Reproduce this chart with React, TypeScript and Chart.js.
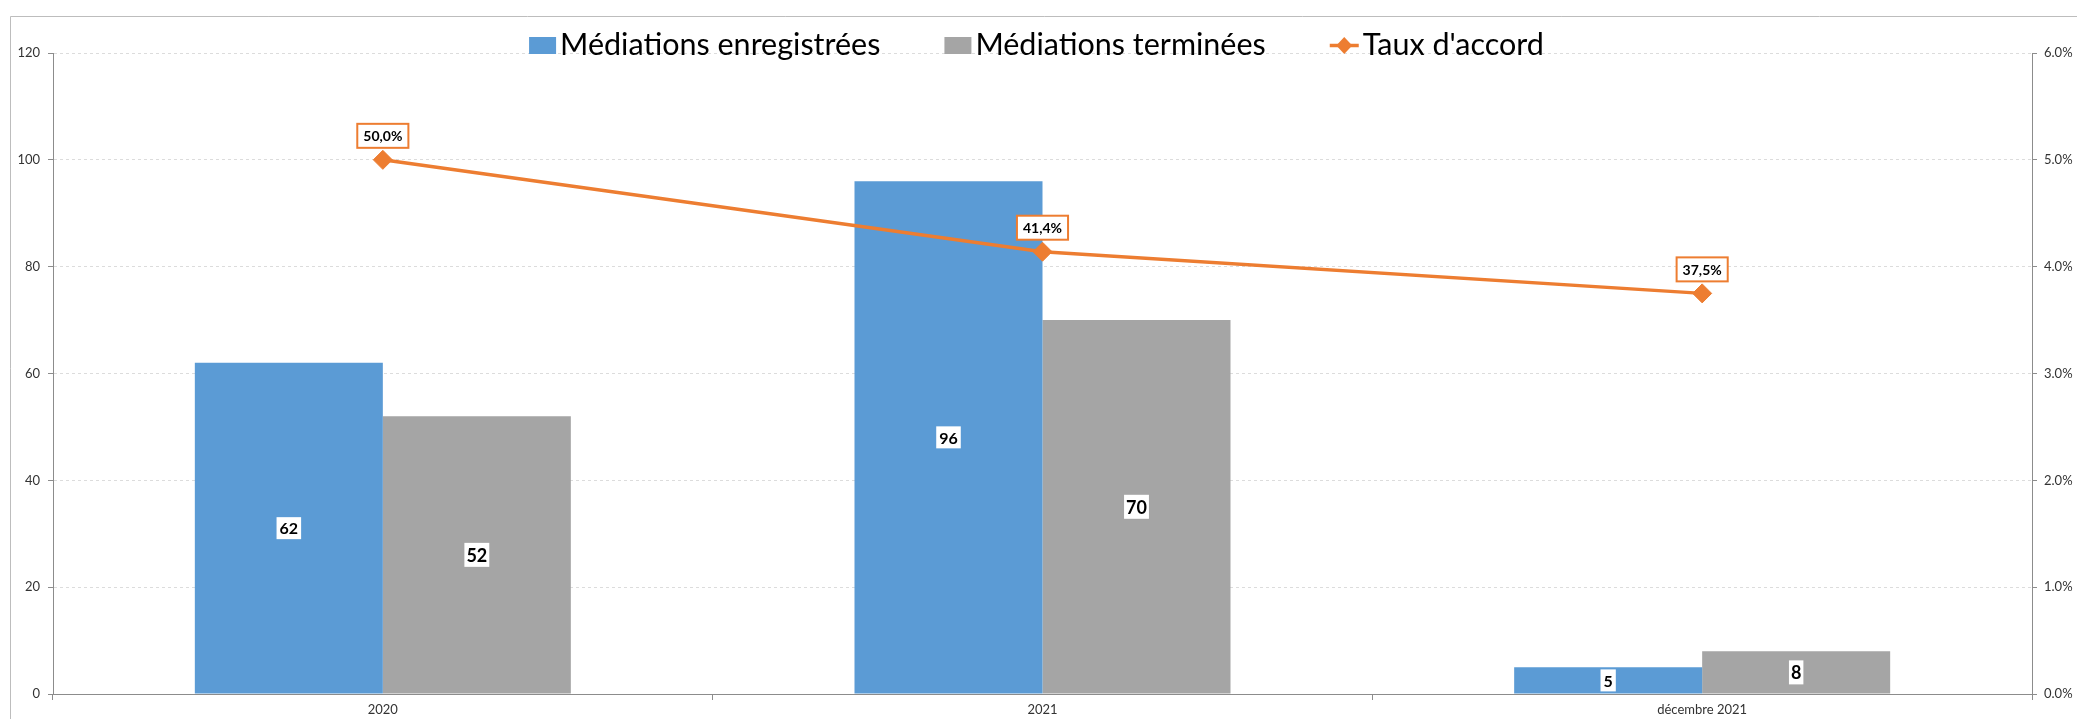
import React, { useEffect, useRef } from 'react';
import { Chart, registerables } from 'chart.js';

Chart.register(...registerables);

const categories = ['2020', '2021', 'décembre 2021'];
const registeredMediations = [62, 96, 5];
const completedMediations = [52, 70, 8];
const agreementRate = [50.0, 41.4, 37.5];
const seriesNames = ['Médiations enregistrées', 'Médiations terminées', "Taux d'accord"];

const BLUE = '#5B9BD5';
const GREY = '#A5A5A5';
const ORANGE = '#ED7D31';
const AXIS = '#8c8c8c';
const FONT = 'Lato';

const fmtRate = (v: number) => v.toFixed(1).replace('.', ',') + '%';

const framePlugin = {
  id: 'frame',
  beforeDraw(chart: any) {
    const { ctx, width, height } = chart;
    ctx.save();
    ctx.fillStyle = '#ffffff';
    ctx.fillRect(0, 0, width, height);
    ctx.strokeStyle = '#bdbdbd';
    ctx.lineWidth = 1;
    ctx.beginPath();
    ctx.moveTo(10.5, height + 2);
    ctx.lineTo(10.5, 16.5);
    ctx.lineTo(width + 2, 16.5);
    ctx.stroke();
    ctx.restore();
  },
};

function drawBox(ctx: any, text: string, cx: number, cy: number, font: string, padX: number, padY: number, fontPx: number, border?: string) {
  ctx.font = font;
  const w = ctx.measureText(text).width + padX * 2;
  const h = fontPx + padY * 2;
  ctx.fillStyle = '#ffffff';
  ctx.fillRect(cx - w / 2, cy - h / 2, w, h);
  if (border) {
    ctx.strokeStyle = border;
    ctx.lineWidth = 2;
    ctx.strokeRect(cx - w / 2, cy - h / 2, w, h);
  }
  ctx.fillStyle = '#000000';
  ctx.textAlign = 'center';
  ctx.textBaseline = 'middle';
  ctx.fillText(text, cx, cy + 1);
}

const labelsPlugin = {
  id: 'valueLabels',
  afterDatasetsDraw(chart: any) {
    const { ctx } = chart;
    ctx.save();
    chart.data.datasets.forEach((ds: any, di: number) => {
      const meta = chart.getDatasetMeta(di);
      meta.data.forEach((el: any, i: number) => {
        const v = ds.data[i];
        if (ds.type === 'line') {
          drawBox(ctx, fmtRate(v), el.x, el.y - 24, `bold 14px ${FONT}`, 6, 5, 14, ORANGE);
        } else {
          const cy = (el.y + el.base) / 2;
          if (di === 1) {
            drawBox(ctx, String(v), el.x, cy, `bold 16px ${FONT}`, 3, 3, 16);
          } else {
            drawBox(ctx, String(v), el.x, cy, `bold 18px ${FONT}`, 2, 3, 18);
          }
        }
      });
    });
    ctx.restore();
  },
};

const legendPlugin = {
  id: 'customLegend',
  afterDraw(chart: any) {
    const { ctx, chartArea } = chart;
    ctx.save();
    ctx.font = `30.5px ${FONT}`;
    const markerW = [27, 27, 29];
    const gapText = 4;
    const gapItems = 64;
    const textW = seriesNames.map((n) => ctx.measureText(n).width);
    let total = 0;
    seriesNames.forEach((_, i) => {
      total += markerW[i] + gapText + textW[i];
      if (i < seriesNames.length - 1) total += gapItems;
    });
    const center = (chartArea.left + chartArea.right) / 2 - 6;
    let x = center - total / 2;
    const baseline = 55;
    const midY = 45.5;
    seriesNames.forEach((name, i) => {
      if (i < 2) {
        ctx.fillStyle = i === 0 ? BLUE : GREY;
        ctx.fillRect(x, 37, markerW[i], 17);
      } else {
        ctx.strokeStyle = ORANGE;
        ctx.lineWidth = 3.5;
        ctx.beginPath();
        ctx.moveTo(x, midY);
        ctx.lineTo(x + markerW[i], midY);
        ctx.stroke();
        ctx.fillStyle = ORANGE;
        const cx = x + markerW[i] / 2;
        ctx.beginPath();
        ctx.moveTo(cx - 8, midY);
        ctx.lineTo(cx, midY - 8.5);
        ctx.lineTo(cx + 8, midY);
        ctx.lineTo(cx, midY + 8.5);
        ctx.closePath();
        ctx.fill();
      }
      x += markerW[i] + gapText;
      ctx.fillStyle = '#000000';
      ctx.textAlign = 'left';
      ctx.textBaseline = 'alphabetic';
      ctx.fillText(name, x, baseline);
      x += textW[i] + gapItems;
    });
    ctx.restore();
  },
};

export default function App() {
  const canvasRef = useRef<HTMLCanvasElement | null>(null);

  useEffect(() => {
    if (!canvasRef.current) return;
    const tickFont = { family: FONT, size: 13 };
    const chart = new Chart(canvasRef.current, {
      type: 'bar',
      data: {
        labels: categories,
        datasets: [
          {
            type: 'line',
            label: seriesNames[2],
            data: agreementRate,
            yAxisID: 'y1',
            borderColor: ORANGE,
            backgroundColor: ORANGE,
            borderWidth: 3.5,
            pointStyle: 'rectRot',
            pointRadius: 9.5,
            pointBackgroundColor: ORANGE,
            pointBorderColor: ORANGE,
            pointBorderWidth: 1,
            tension: 0,
            order: 0,
          } as any,
          {
            type: 'bar',
            label: seriesNames[0],
            data: registeredMediations,
            yAxisID: 'y',
            backgroundColor: BLUE,
            order: 1,
            categoryPercentage: 0.57,
            barPercentage: 1,
          },
          {
            type: 'bar',
            label: seriesNames[1],
            data: completedMediations,
            yAxisID: 'y',
            backgroundColor: GREY,
            order: 1,
            categoryPercentage: 0.57,
            barPercentage: 1,
          },
        ],
      },
      options: {
        animation: false,
        responsive: true,
        maintainAspectRatio: false,
        devicePixelRatio: 1,
        layout: { padding: { top: 53, left: 0, right: 0, bottom: 0 } },
        plugins: {
          legend: { display: false },
          tooltip: { enabled: false },
          title: { display: false },
        },
        scales: {
          x: {
            offset: true,
            grid: {
              offset: true,
              drawOnChartArea: false,
              drawTicks: true,
              tickLength: 6,
              tickColor: AXIS,
            },
            border: { color: AXIS, width: 1 },
            ticks: { font: tickFont, color: '#333333', padding: 2, maxRotation: 0 },
            afterFit: (s: any) => {
              s.height = 25;
            },
          },
          y: {
            position: 'left',
            min: 0,
            max: 120,
            ticks: { stepSize: 20, font: tickFont, color: '#333333', padding: 8 },
            grid: {
              color: '#dcdcdc',
              tickColor: AXIS,
              tickLength: 5,
              tickBorderDash: [],
            },
            border: { color: AXIS, width: 1, dash: [3, 3] },
            afterFit: (s: any) => {
              s.width = 53;
            },
          },
          y1: {
            position: 'right',
            min: 0,
            max: 60,
            ticks: {
              stepSize: 10,
              font: tickFont,
              color: '#333333',
              padding: 7,
              callback: (v: any) => (Number(v) / 10).toFixed(1) + '%',
            },
            grid: { drawOnChartArea: false, tickColor: AXIS, tickLength: 5 },
            border: { color: AXIS, width: 1 },
            afterFit: (s: any) => {
              s.width = 45;
            },
          },
        },
      } as any,
      plugins: [framePlugin, labelsPlugin, legendPlugin],
    });
    return () => chart.destroy();
  }, []);

  return (
    <div style={{ position: 'absolute', left: 0, top: 0, width: 2077, height: 719, overflow: 'hidden' }}>
      <canvas ref={canvasRef} />
    </div>
  );
}
